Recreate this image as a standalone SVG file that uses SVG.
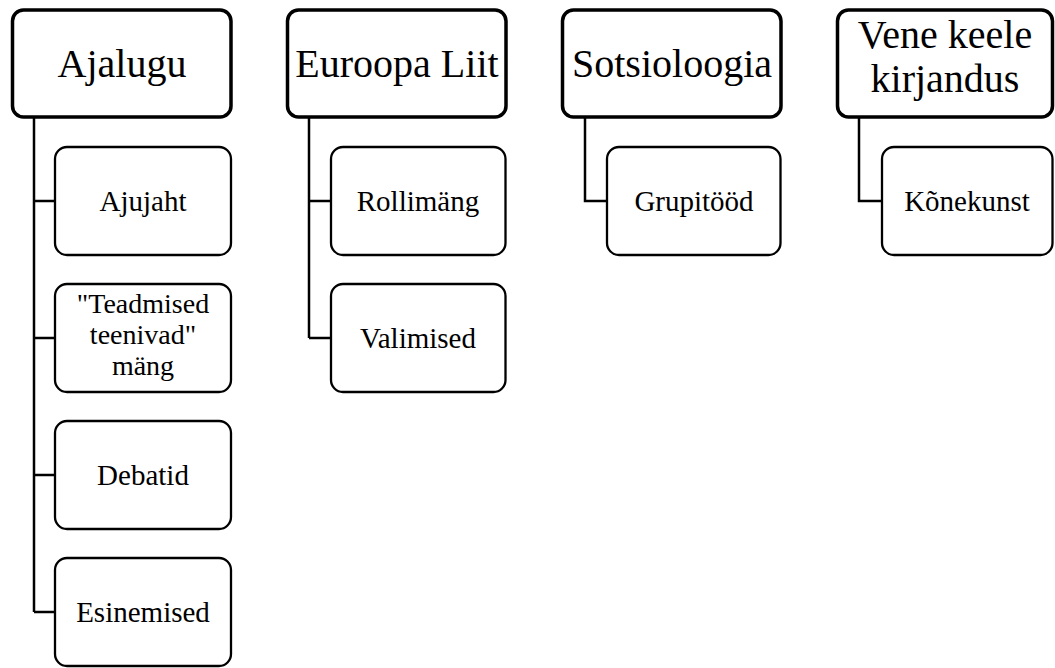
<svg xmlns="http://www.w3.org/2000/svg" width="1055" height="668" viewBox="0 0 1055 668">
<style>
.p{fill:#fff;stroke:#000;stroke-width:3.5}
.c{fill:#fff;stroke:#000;stroke-width:2.3}
.t{font-family:"Liberation Serif","Times New Roman",serif;fill:#000;text-anchor:middle}
.pt{font-size:40px}
.ct{font-size:29px}
.ct3{font-size:28px}
.ln{fill:none;stroke:#000;stroke-width:2.5}
</style>
<rect width="1055" height="668" fill="#fff"/>
<g id="connectors">
<path class="ln" d="M34 118 V612 M34 201 H55 M34 338 H55 M34 475 H55 M34 612 H55"/>
<path class="ln" d="M309 118 V338 M309 201 H331 M309 338 H331"/>
<path class="ln" d="M585 118 V201 H607"/>
<path class="ln" d="M859 118 V201 H882"/>
</g>
<g id="ajalugu"><rect class="p" x="12.5" y="10" width="218.5" height="107" rx="11"/><text class="t pt" x="122" y="77">Ajalugu</text></g>
<g id="euroopa"><rect class="p" x="287.5" y="10" width="218.5" height="107" rx="11"/><text class="t pt" x="397" y="77">Euroopa Liit</text></g>
<g id="sotsioloogia"><rect class="p" x="562.5" y="10" width="218.5" height="107" rx="11"/><text class="t pt" x="672" y="77">Sotsioloogia</text></g>
<g id="vene"><rect class="p" x="837.5" y="10" width="215" height="107" rx="11"/><text class="t pt" x="945" y="48">Vene keele</text><text class="t pt" x="945" y="92">kirjandus</text></g>
<g id="ajujaht"><rect class="c" x="55" y="147" width="176" height="108" rx="12"/><text class="t ct" x="143" y="211">Ajujaht</text></g>
<g id="teadmised"><rect class="c" x="55" y="284" width="176" height="108" rx="12"/><text class="t ct3" x="143" y="313">"Teadmised</text><text class="t ct3" x="143" y="344">teenivad"</text><text class="t ct3" x="143" y="375">mäng</text></g>
<g id="debatid"><rect class="c" x="55" y="421" width="176" height="108" rx="12"/><text class="t ct" x="143" y="485">Debatid</text></g>
<g id="esinemised"><rect class="c" x="55" y="558" width="176" height="108" rx="12"/><text class="t ct" x="143" y="622">Esinemised</text></g>
<g id="rollimang"><rect class="c" x="331" y="147" width="174.5" height="108" rx="12"/><text class="t ct" x="418" y="211">Rollimäng</text></g>
<g id="valimised"><rect class="c" x="331" y="284" width="174.5" height="108" rx="12"/><text class="t ct" x="418" y="348">Valimised</text></g>
<g id="grupitood"><rect class="c" x="607" y="147" width="173.5" height="108" rx="12"/><text class="t ct" x="694" y="211">Grupitööd</text></g>
<g id="konekunst"><rect class="c" x="882" y="147" width="170.5" height="108" rx="12"/><text class="t ct" x="967" y="211">Kõnekunst</text></g>
</svg>
